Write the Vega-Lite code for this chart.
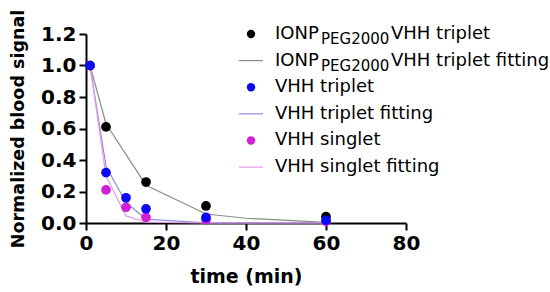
{
  "$schema": "https://vega.github.io/schema/vega-lite/v6.json",
  "width": 320,
  "height": 189,
  "padding": {"left": 9, "top": 9, "right": 0, "bottom": 0},
  "background": "white",
  "config": {"view": {"stroke": null}, "font": "DejaVu Sans"},
  "datasets": {
    "obs": [
      {"t": 1, "v": 1.0, "series": "IONP"},
      {"t": 5, "v": 0.61, "series": "IONP"},
      {"t": 15, "v": 0.26, "series": "IONP"},
      {"t": 30, "v": 0.108, "series": "IONP"},
      {"t": 60, "v": 0.04, "series": "IONP"},
      {"t": 1, "v": 1.0, "series": "VHH singlet"},
      {"t": 5, "v": 0.21, "series": "VHH singlet"},
      {"t": 10, "v": 0.10, "series": "VHH singlet"},
      {"t": 15, "v": 0.036, "series": "VHH singlet"},
      {"t": 30, "v": 0.02, "series": "VHH singlet"},
      {"t": 60, "v": 0.01, "series": "VHH singlet"},
      {"t": 1, "v": 1.0, "series": "VHH triplet"},
      {"t": 5, "v": 0.32, "series": "VHH triplet"},
      {"t": 10, "v": 0.16, "series": "VHH triplet"},
      {"t": 15, "v": 0.09, "series": "VHH triplet"},
      {"t": 30, "v": 0.035, "series": "VHH triplet"},
      {"t": 60, "v": 0.017, "series": "VHH triplet"}
    ],
    "fit": [
      {"t": 1, "v": 1.0, "series": "IONP fit"},
      {"t": 5, "v": 0.63, "series": "IONP fit"},
      {"t": 15, "v": 0.24, "series": "IONP fit"},
      {"t": 30, "v": 0.057, "series": "IONP fit"},
      {"t": 40, "v": 0.03, "series": "IONP fit"},
      {"t": 60, "v": 0.004, "series": "IONP fit"},
      {"t": 1, "v": 1.0, "series": "VHH triplet fit"},
      {"t": 5, "v": 0.36, "series": "VHH triplet fit"},
      {"t": 10, "v": 0.13, "series": "VHH triplet fit"},
      {"t": 15, "v": 0.025, "series": "VHH triplet fit"},
      {"t": 30, "v": 0.001, "series": "VHH triplet fit"},
      {"t": 60, "v": 0.0, "series": "VHH triplet fit"},
      {"t": 1, "v": 1.0, "series": "VHH singlet fit"},
      {"t": 5, "v": 0.30, "series": "VHH singlet fit"},
      {"t": 10, "v": 0.045, "series": "VHH singlet fit"},
      {"t": 15, "v": 0.005, "series": "VHH singlet fit"},
      {"t": 30, "v": 0.0, "series": "VHH singlet fit"},
      {"t": 60, "v": 0.0, "series": "VHH singlet fit"}
    ],
    "legend": [
      {"row": 0, "kind": "dot", "series": "IONP", "a": "IONP", "b": "PEG2000", "c": "VHH triplet"},
      {"row": 1, "kind": "line", "series": "IONP fit", "a": "IONP", "b": "PEG2000", "c": "VHH triplet fitting"},
      {"row": 2, "kind": "dot", "series": "VHH triplet", "a": "VHH triplet", "b": "", "c": ""},
      {"row": 3, "kind": "line", "series": "VHH triplet fit", "a": "VHH triplet fitting", "b": "", "c": ""},
      {"row": 4, "kind": "dot", "series": "VHH singlet", "a": "VHH singlet", "b": "", "c": ""},
      {"row": 5, "kind": "line", "series": "VHH singlet fit", "a": "VHH singlet fitting", "b": "", "c": ""}
    ]
  },
  "resolve": {"scale": {"y": "independent"}},
  "layer": [
    {
      "layer": [
        {
          "data": {"name": "fit"},
          "mark": {"type": "line", "strokeWidth": 1.2},
          "encoding": {
            "x": {"field": "t", "type": "quantitative"},
            "y": {"field": "v", "type": "quantitative"},
            "color": {"field": "series", "type": "nominal"}
          }
        },
        {
          "data": {"name": "obs"},
          "mark": {"type": "circle", "size": 95, "opacity": 1},
          "encoding": {
            "x": {"field": "t", "type": "quantitative"},
            "y": {"field": "v", "type": "quantitative"},
            "color": {"field": "series", "type": "nominal"}
          }
        }
      ],
      "encoding": {
        "x": {
          "field": "t",
          "type": "quantitative",
          "scale": {"domain": [0, 80], "nice": false, "zero": false},
          "axis": {
            "title": "time (min)",
            "values": [0, 20, 40, 60, 80],
            "grid": false,
            "domainColor": "black", "domainWidth": 2,
            "tickColor": "black", "tickWidth": 2, "tickSize": 7,
            "labelFont": "DejaVu Sans", "labelFontSize": 20, "labelFontWeight": "bold", "labelColor": "black",
            "labelPadding": 3, "labelFlush": false,
            "titleFont": "DejaVu Sans", "titleFontSize": 19, "titleFontWeight": "bold", "titleColor": "black",
            "titlePadding": 14
          }
        },
        "y": {
          "field": "v",
          "type": "quantitative",
          "scale": {"domain": [0, 1.2], "nice": false},
          "axis": {
            "title": "Normalized blood signal",
            "values": [0, 0.2, 0.4, 0.6, 0.8, 1.0, 1.2],
            "format": ".1f",
            "grid": false,
            "domainColor": "black", "domainWidth": 2,
            "tickColor": "black", "tickWidth": 2, "tickSize": 7,
            "labelFont": "DejaVu Sans", "labelFontSize": 20, "labelFontWeight": "bold", "labelColor": "black",
            "labelPadding": 3, "labelFlush": false,
            "titleFont": "DejaVu Sans", "titleFontSize": 17.5, "titleFontWeight": "bold", "titleColor": "black",
            "titlePadding": 13
          }
        },
        "color": {
          "field": "series",
          "type": "nominal",
          "legend": null,
          "scale": {
            "domain": ["IONP", "IONP fit", "VHH triplet", "VHH triplet fit", "VHH singlet", "VHH singlet fit"],
            "range": ["#000000", "#8c8c8c", "#0a0af5", "#8f8fe6", "#d11fd6", "#e59ae8"]
          }
        }
      }
    },
    {
      "data": {"name": "legend"},
      "encoding": {
        "y": {"field": "row", "type": "quantitative", "scale": {"domain": [0, 7.1], "reverse": true, "nice": false, "zero": false}, "axis": null},
        "color": {"field": "series", "type": "nominal", "legend": null}
      },
      "layer": [
        {
          "transform": [{"filter": "datum.kind == 'dot'"}],
          "mark": {"type": "circle", "size": 70, "opacity": 1},
          "encoding": {"x": {"datum": 41.25, "type": "quantitative"}}
        },
        {
          "transform": [{"filter": "datum.kind == 'line'"}],
          "mark": {"type": "point", "shape": "stroke", "size": 576, "strokeWidth": 1.2, "filled": false, "opacity": 1},
          "encoding": {"x": {"datum": 41.25, "type": "quantitative"}}
        },
        {
          "mark": {"type": "text", "align": "left", "baseline": "middle", "font": "DejaVu Sans", "fontSize": 18},
          "encoding": {"x": {"datum": 47.25, "type": "quantitative"}, "text": {"field": "a"}, "color": {"value": "black"}}
        },
        {
          "transform": [{"filter": "datum.b != ''"}],
          "mark": {"type": "text", "align": "left", "baseline": "middle", "font": "DejaVu Sans", "fontSize": 15, "dx": 46, "dy": 5},
          "encoding": {"x": {"datum": 47.25, "type": "quantitative"}, "text": {"field": "b"}, "color": {"value": "black"}}
        },
        {
          "transform": [{"filter": "datum.c != ''"}],
          "mark": {"type": "text", "align": "left", "baseline": "middle", "font": "DejaVu Sans", "fontSize": 18, "dx": 116},
          "encoding": {"x": {"datum": 47.25, "type": "quantitative"}, "text": {"field": "c"}, "color": {"value": "black"}}
        }
      ]
    }
  ]
}
